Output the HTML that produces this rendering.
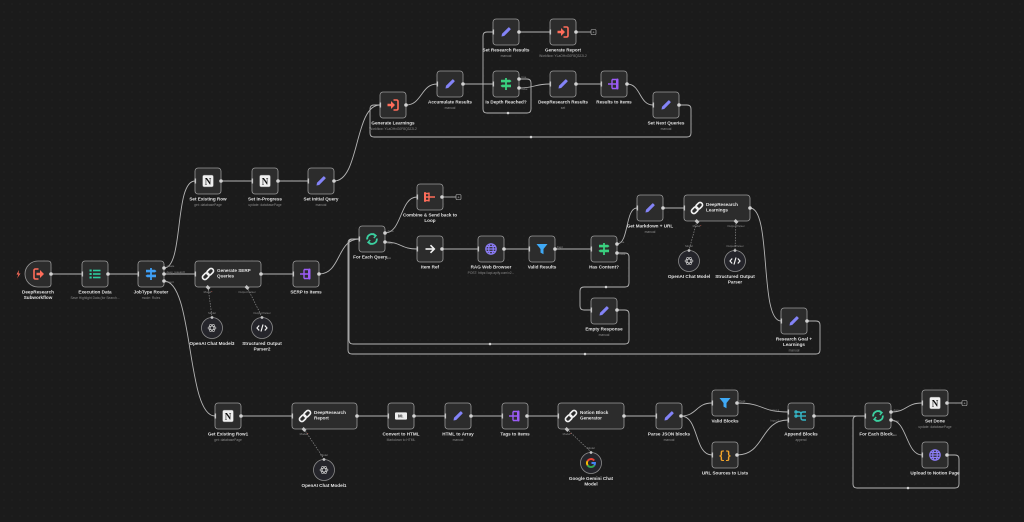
<!DOCTYPE html>
<html><head><meta charset="utf-8"><style>
html,body{margin:0;padding:0;background:#1b1b1b;}
svg{display:block;}
.n{fill:#2c2c2c;stroke:#9a9a9a;stroke-width:.8;}
.c{fill:#25252b;stroke:#8c8c8c;stroke-width:.8;}
.e{fill:none;stroke:#b4b4b4;stroke-width:.9;}
.d{fill:none;stroke:#8a8a8a;stroke-width:.7;stroke-dasharray:1.5 1.2;}
.l{font-family:"Liberation Sans",sans-serif;font-size:4.6px;font-weight:bold;fill:#e2e2e2;text-anchor:middle;}
.s{font-family:"Liberation Sans",sans-serif;font-size:3.3px;fill:#8a8a8a;text-anchor:middle;}
.w{font-family:"Liberation Sans",sans-serif;font-size:4.6px;font-weight:bold;fill:#e2e2e2;}
.h{font-family:"Liberation Sans",sans-serif;font-size:2.8px;fill:#8d8d8d;}
.hm{font-family:"Liberation Sans",sans-serif;font-size:2.8px;fill:#8d8d8d;text-anchor:middle;}
.o{fill:#d2d2d2;}
.i{fill:#c4c4c4;}
</style></head><body>
<svg width="1024" height="522" viewBox="0 0 1024 522" xmlns="http://www.w3.org/2000/svg">
<defs>
<pattern id="dots" width="8" height="8" patternUnits="userSpaceOnUse"><circle cx="4" cy="4" r="0.45" fill="#2a2a2a"/></pattern>
<g id="i-pencil"><path d="M-4.5,4.5 L-4,1.8 L2.2,-4.4 Q2.8,-5 3.4,-4.4 L4.4,-3.4 Q5,-2.8 4.4,-2.2 L-1.8,4 Z" fill="#8383f7"/></g>
<g id="i-exec"><path d="M0.5,-5 H3.5 Q5,-5 5,-3.5 V3.5 Q5,5 3.5,5 H0.5" fill="none" stroke="#ff6d5a" stroke-width="1.6"/><path d="M-5.5,-1.3 H-2 V-4 L2,0 L-2,4 V1.3 H-5.5 Z" fill="#ff6d5a"/></g>
<g id="i-trig"><path d="M-0.5,-5 H-3.5 Q-5,-5 -5,-3.5 V3.5 Q-5,5 -3.5,5 H-0.5" fill="none" stroke="#ff6d5a" stroke-width="1.6"/><path d="M-2.5,-1.3 H1 V-4 L5,0 L1,4 V1.3 H-2.5 Z" fill="#ff6d5a"/></g>
<g id="i-if"><rect x="-0.9" y="-6" width="1.8" height="12"/><path d="M-5,-4.2 H4 L5.5,-2.9 L4,-1.6 H-5Z"/><path d="M5,0.6 H-4 L-5.5,1.9 L-4,3.2 H5Z"/></g>
<g id="i-split"><path d="M-6,0 H-2 M-2,-4.5 V4.5 M-2,-4.5 H2 M-2,0 H2 M-2,4.5 H2" stroke="#9b5cf6" stroke-width="1.4" fill="none"/><rect x="2" y="-5.5" width="2.5" height="11" rx="1" fill="#9b5cf6"/></g>
<g id="i-agg"><path d="M-5,-3.5 H-1 M-5,0 H-1 M-5,3.5 H-1 M-1,-4.5 V4.5 M-1,0 H5" stroke="#ff6d5a" stroke-width="1.4" fill="none"/><rect x="-6" y="-5" width="2" height="10" rx="1" fill="#ff6d5a"/></g>
<g id="i-notion"><rect x="-5.5" y="-6" width="11" height="12" rx="1.6" fill="#efefef" stroke="#555" stroke-width=".5"/><text x="0" y="3.4" font-size="9" font-weight="bold" text-anchor="middle" fill="#111" font-family="Liberation Serif,serif">N</text></g>
<g id="i-list" fill="#2ecc9e"><rect x="-5.5" y="-4.5" width="2.2" height="2"/><rect x="-5.5" y="-1" width="2.2" height="2"/><rect x="-5.5" y="2.5" width="2.2" height="2"/><rect x="-2" y="-4.3" width="7.5" height="1.6"/><rect x="-2" y="-0.8" width="7.5" height="1.6"/><rect x="-2" y="2.7" width="7.5" height="1.6"/></g>
<g id="i-link"><g transform="rotate(-45)" fill="none" stroke="#f0f0f0" stroke-width="1.7"><rect x="-6.8" y="-2.4" width="7.4" height="4.8" rx="2.4"/><rect x="-0.6" y="-2.4" width="7.4" height="4.8" rx="2.4"/></g></g>
<g id="i-loop" fill="none" stroke="#3bd0a0" stroke-width="1.8"><path d="M-4.8,0.5 A4.8,4.8 0 0 1 3.2,-3.6"/><path d="M4.8,-0.5 A4.8,4.8 0 0 1 -3.2,3.6"/><path d="M1.2,-5.5 L4,-3.4 L1.8,-1" stroke-width="1.4"/><path d="M-1.2,5.5 L-4,3.4 L-1.8,1" stroke-width="1.4"/></g>
<g id="i-globe" fill="none" stroke="#8b7cf6" stroke-width="1.2"><circle r="5.2"/><ellipse rx="2.3" ry="5.2"/><path d="M-5.2,0 H5.2 M-4.6,-2.5 H4.6 M-4.6,2.5 H4.6"/></g>
<g id="i-filter"><path d="M-5.5,-5 H5.5 L1.5,0 V5.2 L-1.5,3.6 V0 Z" fill="#3fa9f5"/></g>
<g id="i-md"><rect x="-6" y="-3.6" width="12" height="7.2" rx="1" fill="#eeeeee"/><text x="0" y="1.6" font-size="4.6" font-weight="bold" text-anchor="middle" fill="#222" font-family="Liberation Sans,sans-serif">M↓</text></g>
<g id="i-json"><text x="0" y="3.6" font-size="11" font-weight="bold" text-anchor="middle" fill="#f0a32a" font-family="Liberation Mono,monospace">{}</text></g>
<g id="i-merge" fill="none" stroke="#35b5c5" stroke-width="1.4"><path d="M-5,-4 H-2 Q0,-4 0,-1.5 V1.5 Q0,4 2,4 H5"/><path d="M-5,0 H5"/><path d="M0,-1.5 Q0,-4 2,-4 H5"/><circle cx="-5" cy="-4" r="1"/><circle cx="-5" cy="0" r="1"/></g>
<g id="i-arrow" fill="none" stroke="#f0f0f0" stroke-width="1.6"><path d="M-4.5,0 H4"/><path d="M0.5,-3.8 L4.3,0 L0.5,3.8"/></g>
<g id="i-openai" fill="none" stroke="#c8c8c8" stroke-width=".7"><ellipse rx="4" ry="1.8"/><ellipse rx="4" ry="1.8" transform="rotate(60)"/><ellipse rx="4" ry="1.8" transform="rotate(120)"/></g>
<g id="i-code" fill="none" stroke="#f0f0f0" stroke-width="1.2"><path d="M-2.8,-2.5 L-5,0 L-2.8,2.5 M2.8,-2.5 L5,0 L2.8,2.5 M1,-3.5 L-1,3.5"/></g>
<g id="i-google" fill="none" stroke-width="1.9"><path d="M3.2,-2.4 A4,4 0 0 0 -3.5,-1.9" stroke="#ea4335"/><path d="M-3.5,-1.9 A4,4 0 0 0 -3.3,2.3" stroke="#fbbc05"/><path d="M-3.3,2.3 A4,4 0 0 0 3.3,2.3" stroke="#34a853"/><path d="M3.3,2.3 A4,4 0 0 0 4,0 H0.5" stroke="#4285f4"/></g>
</defs>
<rect width="1024" height="522" fill="#1b1b1b"/>
<rect width="1024" height="522" fill="url(#dots)"/>

<!-- ===== EDGES ===== -->
<g class="e">
<path d="M406,105 C422,105 421,84 437,84"/>
<path d="M463,84 H493"/>
<path d="M519,79 H527 Q531,79 531,83 V109 Q531,113 527,113 H487 Q483,113 483,109 V36 Q483,32 487,32 H493"/>
<path d="M519,88 C535,88 534,84 550,84"/>
<path d="M576,84 H601"/>
<path d="M627,84 C641,84 639,105 653,105"/>
<path d="M679,105 H687 Q691,105 691,109 V133 Q691,137 687,137 H374 Q370,137 370,133 V109 Q370,105 374,105 H380"/>
<path d="M519,32 H550"/>
<path d="M576,32 H591"/>
<path d="M51,274 H82"/>
<path d="M108,274 H138"/>
<path d="M164,268 C184,268 174,181 195,181"/>
<path d="M164,274 H195"/>
<path d="M164,281 C194,281 186,416 215,416"/>
<path d="M221,181 H252"/>
<path d="M278,181 H308"/>
<path d="M334,181 C360,181 354,105 380,105"/>
<path d="M261,274 H293"/>
<path d="M319,274 C341,274 337,239 359,239"/>
<path d="M385,233 C402,233 400,197 417,197"/>
<path d="M385,242 C401,242 401,249 417,249"/>
<path d="M442,197 H456"/>
<path d="M442,249 H478"/>
<path d="M504,249 H529"/>
<path d="M555,249 H591"/>
<path d="M617,244 C629,244 625,208 637,208"/>
<path d="M617,253 H625 Q629,253 629,257 V283 Q629,287 625,287 H584 Q580,287 580,291 V306 Q580,310 584,310 H591"/>
<path d="M617,310 H625 Q629,310 629,314 V340 Q629,344 625,344 H353 Q349,344 349,340 V243 Q349,239 353,239 H359"/>
<path d="M663,208 H684"/>
<path d="M750,208 C772,208 759,321 781,321"/>
<path d="M807,321 H816 Q820,321 820,325 V350 Q820,354 816,354 H352 Q348,354 348,350 V243 Q348,239 352,239 H359"/>
<path d="M241,416 H292"/>
<path d="M357,416 H388"/>
<path d="M414,416 H445"/>
<path d="M471,416 H502"/>
<path d="M527,416 H558"/>
<path d="M624,416 H656"/>
<path d="M681,416 C697,416 696,403 712,403"/>
<path d="M681,416 C699,416 694,455 712,455"/>
<path d="M737,403 C765,403 760,412 788,412"/>
<path d="M737,455 C765,455 760,420 788,420"/>
<path d="M814,416 H865"/>
<path d="M891,412 C907,412 906,403 922,403"/>
<path d="M891,420 C907,420 906,455 922,455"/>
<path d="M947,403 H962"/>
<path d="M947,455 H955 Q959,455 959,459 V484 Q959,488 955,488 H857 Q853,488 853,484 V420 Q853,416 857,416 H865"/>
</g>
<!-- dashed sub connections -->
<g class="d">
<path d="M208,287 L212,317"/><path d="M247,287 L262,317"/>
<path d="M697,221 L689,250"/><path d="M736,221 L735,250"/>
<path d="M304,429 L324,459"/>
<path d="M567,429 L591,452"/>
</g>
<!-- loop midpoint dots -->
<g class="o"><circle cx="508" cy="113" r="1.3"/><circle cx="531" cy="137" r="1.3"/><circle cx="606" cy="287" r="1.3"/><circle cx="490" cy="344" r="1.3"/><circle cx="585" cy="354" r="1.3"/><circle cx="908" cy="488" r="1.3"/></g>
<!-- end squares -->
<g fill="#1b1b1b" stroke="#bbbbbb" stroke-width=".6">
<rect x="591" y="29.5" width="5" height="5" rx="1"/><rect x="456" y="194.5" width="5" height="5" rx="1"/><rect x="962" y="400.5" width="5" height="5" rx="1"/>
</g>
<g font-family="Liberation Sans,sans-serif" font-size="4" fill="#bbb" text-anchor="middle"><text x="593.5" y="33.5">+</text><text x="458.5" y="198.5">+</text><text x="964.5" y="404.5">+</text></g>

<!-- ===== NODES ===== -->
<g>
<!-- top -->
<rect class="n" x="493" y="19" width="26" height="26" rx="3"/><use href="#i-pencil" x="506" y="32"/>
<rect class="n" x="550" y="19" width="26" height="26" rx="3"/><use href="#i-exec" x="563" y="32"/>
<rect class="n" x="437" y="71" width="26" height="26" rx="3"/><use href="#i-pencil" x="450" y="84"/>
<rect class="n" x="493" y="71" width="26" height="26" rx="3"/><use href="#i-if" x="506" y="84" fill="#3ad07f"/>
<rect class="n" x="550" y="71" width="26" height="26" rx="3"/><use href="#i-pencil" x="563" y="84"/>
<rect class="n" x="601" y="71" width="26" height="26" rx="3"/><use href="#i-split" x="614" y="84"/>
<rect class="n" x="380" y="92" width="26" height="26" rx="3"/><use href="#i-exec" x="393" y="105"/>
<rect class="n" x="653" y="92" width="26" height="26" rx="3"/><use href="#i-pencil" x="666" y="105"/>
<!-- second row -->
<rect class="n" x="195" y="168" width="26" height="26" rx="3"/><use href="#i-notion" x="208" y="181"/>
<rect class="n" x="252" y="168" width="26" height="26" rx="3"/><use href="#i-notion" x="265" y="181"/>
<rect class="n" x="308" y="168" width="26" height="26" rx="3"/><use href="#i-pencil" x="321" y="181"/>
<!-- main row -->
<path class="n" d="M38,261 H48 Q51,261 51,264 V284 Q51,287 48,287 H38 A13,13 0 0 1 38,261 Z"/><use href="#i-trig" x="39" y="274"/>
<path d="M19,270 L16.5,274.5 H18.5 L17,278.5 L20.5,273.5 H18.5 Z" fill="#ff6d5a"/>
<rect class="n" x="82" y="261" width="26" height="26" rx="3"/><use href="#i-list" x="95" y="274"/>
<rect class="n" x="138" y="261" width="26" height="26" rx="3"/><use href="#i-if" x="151" y="274" fill="#3f9ff5"/>
<rect class="n" x="195" y="261" width="66" height="26" rx="3"/><use href="#i-link" x="208" y="274"/>
<text class="w" x="217" y="272">Generate SERP</text><text class="w" x="217" y="277.6">Queries</text>
<rect class="n" x="293" y="261" width="26" height="26" rx="3"/><use href="#i-split" x="306" y="274"/>
<rect class="n" x="359" y="226" width="26" height="26" rx="3"/><use href="#i-loop" x="372" y="239"/>
<rect class="n" x="417" y="184" width="26" height="26" rx="3"/><use href="#i-agg" x="430" y="197"/>
<rect class="n" x="417" y="236" width="26" height="26" rx="3"/><use href="#i-arrow" x="430" y="249"/>
<rect class="n" x="478" y="236" width="26" height="26" rx="3"/><use href="#i-globe" x="491" y="249"/>
<rect class="n" x="529" y="236" width="26" height="26" rx="3"/><use href="#i-filter" x="542" y="249"/>
<rect class="n" x="591" y="236" width="26" height="26" rx="3"/><use href="#i-if" x="604" y="249" fill="#3ad07f"/>
<rect class="n" x="591" y="298" width="26" height="26" rx="3"/><use href="#i-pencil" x="604" y="311"/>
<rect class="n" x="637" y="195" width="26" height="26" rx="3"/><use href="#i-pencil" x="650" y="208"/>
<rect class="n" x="684" y="195" width="66" height="26" rx="3"/><use href="#i-link" x="697" y="208"/>
<text class="w" x="706" y="206">DeepResearch</text><text class="w" x="706" y="211.6">Learnings</text>
<rect class="n" x="781" y="308" width="26" height="26" rx="3"/><use href="#i-pencil" x="794" y="321"/>
<!-- bottom -->
<rect class="n" x="215" y="403" width="26" height="26" rx="3"/><use href="#i-notion" x="228" y="416"/>
<rect class="n" x="292" y="403" width="65" height="26" rx="3"/><use href="#i-link" x="305" y="416"/>
<text class="w" x="314" y="414">DeepResearch</text><text class="w" x="314" y="419.6">Report</text>
<rect class="n" x="388" y="403" width="26" height="26" rx="3"/><use href="#i-md" x="401" y="416"/>
<rect class="n" x="445" y="403" width="26" height="26" rx="3"/><use href="#i-pencil" x="458" y="416"/>
<rect class="n" x="502" y="403" width="26" height="26" rx="3"/><use href="#i-split" x="515" y="416"/>
<rect class="n" x="558" y="403" width="66" height="26" rx="3"/><use href="#i-link" x="571" y="416"/>
<text class="w" x="580" y="414">Notion Block</text><text class="w" x="580" y="419.6">Generator</text>
<rect class="n" x="656" y="403" width="26" height="26" rx="3"/><use href="#i-pencil" x="669" y="416"/>
<rect class="n" x="712" y="390" width="26" height="26" rx="3"/><use href="#i-filter" x="725" y="403"/>
<rect class="n" x="712" y="442" width="26" height="26" rx="3"/><use href="#i-json" x="725" y="455"/>
<rect class="n" x="788" y="403" width="26" height="26" rx="3"/><use href="#i-merge" x="801" y="416"/>
<rect class="n" x="865" y="403" width="26" height="26" rx="3"/><use href="#i-loop" x="878" y="416"/>
<rect class="n" x="922" y="390" width="26" height="26" rx="3"/><use href="#i-notion" x="935" y="403"/>
<rect class="n" x="922" y="442" width="26" height="26" rx="3"/><use href="#i-globe" x="935" y="455"/>
<!-- circles -->
<circle class="c" cx="212" cy="328" r="10.5"/><use href="#i-openai" x="212" y="328"/>
<circle class="c" cx="262" cy="328" r="10.5"/><use href="#i-code" x="262" y="328"/>
<circle class="c" cx="689" cy="261" r="10.5"/><use href="#i-openai" x="689" y="261"/>
<circle class="c" cx="735" cy="261" r="10.5"/><use href="#i-code" x="735" y="261"/>
<circle class="c" cx="324" cy="470" r="10.5"/><use href="#i-openai" x="324" y="470"/>
<circle class="c" cx="591" cy="463" r="10.5"/><use href="#i-google" x="591" y="463"/>
</g>

<!-- handles: outputs (circles) -->
<g class="o">
<circle cx="406" cy="105" r="1.8"/><circle cx="463" cy="84" r="1.8"/><circle cx="519" cy="79" r="1.8"/><circle cx="519" cy="88" r="1.8"/>
<circle cx="576" cy="84" r="1.8"/><circle cx="627" cy="84" r="1.8"/><circle cx="679" cy="105" r="1.8"/><circle cx="519" cy="32" r="1.8"/><circle cx="576" cy="32" r="1.8"/>
<circle cx="51" cy="274" r="1.8"/><circle cx="108" cy="274" r="1.8"/><circle cx="164" cy="268" r="1.8"/><circle cx="164" cy="274" r="1.8"/><circle cx="164" cy="281" r="1.8"/>
<circle cx="221" cy="181" r="1.8"/><circle cx="278" cy="181" r="1.8"/><circle cx="334" cy="181" r="1.8"/><circle cx="261" cy="274" r="1.8"/><circle cx="319" cy="274" r="1.8"/>
<circle cx="385" cy="233" r="1.8"/><circle cx="385" cy="242" r="1.8"/><circle cx="442" cy="197" r="1.8"/><circle cx="442" cy="249" r="1.8"/><circle cx="504" cy="249" r="1.8"/>
<circle cx="555" cy="249" r="1.8"/><circle cx="617" cy="244" r="1.8"/><circle cx="617" cy="253" r="1.8"/><circle cx="617" cy="310" r="1.8"/><circle cx="663" cy="208" r="1.8"/>
<circle cx="750" cy="208" r="1.8"/><circle cx="807" cy="321" r="1.8"/>
<circle cx="241" cy="416" r="1.8"/><circle cx="357" cy="416" r="1.8"/><circle cx="414" cy="416" r="1.8"/><circle cx="471" cy="416" r="1.8"/><circle cx="527" cy="416" r="1.8"/>
<circle cx="624" cy="416" r="1.8"/><circle cx="681" cy="416" r="1.8"/><circle cx="737" cy="403" r="1.8"/><circle cx="737" cy="455" r="1.8"/><circle cx="814" cy="416" r="1.8"/>
<circle cx="891" cy="412" r="1.8"/><circle cx="891" cy="420" r="1.8"/><circle cx="947" cy="403" r="1.8"/><circle cx="947" cy="455" r="1.8"/>
</g>
<!-- handles: inputs (bars) -->
<g class="i">
<rect x="379.5" y="102.5" width="1.6" height="5"/><rect x="436.5" y="81.5" width="1.6" height="5"/><rect x="492.5" y="81.5" width="1.6" height="5"/><rect x="549.5" y="81.5" width="1.6" height="5"/>
<rect x="600.5" y="81.5" width="1.6" height="5"/><rect x="652.5" y="102.5" width="1.6" height="5"/><rect x="492.5" y="29.5" width="1.6" height="5"/><rect x="549.5" y="29.5" width="1.6" height="5"/>
<rect x="81.5" y="271.5" width="1.6" height="5"/><rect x="137.5" y="271.5" width="1.6" height="5"/><rect x="194.5" y="178.5" width="1.6" height="5"/><rect x="251.5" y="178.5" width="1.6" height="5"/>
<rect x="307.5" y="178.5" width="1.6" height="5"/><rect x="194.5" y="271.5" width="1.6" height="5"/><rect x="292.5" y="271.5" width="1.6" height="5"/><rect x="358.5" y="236.5" width="1.6" height="5"/>
<rect x="416.5" y="194.5" width="1.6" height="5"/><rect x="416.5" y="246.5" width="1.6" height="5"/><rect x="477.5" y="246.5" width="1.6" height="5"/><rect x="528.5" y="246.5" width="1.6" height="5"/>
<rect x="590.5" y="246.5" width="1.6" height="5"/><rect x="590.5" y="307.5" width="1.6" height="5"/><rect x="636.5" y="205.5" width="1.6" height="5"/><rect x="683.5" y="205.5" width="1.6" height="5"/>
<rect x="780.5" y="318.5" width="1.6" height="5"/>
<rect x="214.5" y="413.5" width="1.6" height="5"/><rect x="291.5" y="413.5" width="1.6" height="5"/><rect x="387.5" y="413.5" width="1.6" height="5"/><rect x="444.5" y="413.5" width="1.6" height="5"/>
<rect x="501.5" y="413.5" width="1.6" height="5"/><rect x="557.5" y="413.5" width="1.6" height="5"/><rect x="655.5" y="413.5" width="1.6" height="5"/><rect x="711.5" y="400.5" width="1.6" height="5"/>
<rect x="711.5" y="452.5" width="1.6" height="5"/><rect x="787.5" y="409.5" width="1.6" height="5"/><rect x="787.5" y="417.5" width="1.6" height="5"/><rect x="864.5" y="413.5" width="1.6" height="5"/>
<rect x="921.5" y="400.5" width="1.6" height="5"/><rect x="921.5" y="452.5" width="1.6" height="5"/>
<!-- sub-node ports -->
<rect x="206" y="286" width="4" height="3" transform="rotate(45 208 287.5)"/><rect x="245" y="286" width="4" height="3" transform="rotate(45 247 287.5)"/>
<circle cx="212" cy="317.5" r="1.4"/><circle cx="262" cy="317.5" r="1.4"/>
<rect x="695" y="220" width="4" height="3" transform="rotate(45 697 221.5)"/><rect x="734" y="220" width="4" height="3" transform="rotate(45 736 221.5)"/>
<circle cx="689" cy="250.5" r="1.4"/><circle cx="735" cy="250.5" r="1.4"/>
<rect x="302" y="428" width="4" height="3" transform="rotate(45 304 429.5)"/><circle cx="324" cy="459.5" r="1.4"/>
<rect x="565" y="428" width="4" height="3" transform="rotate(45 567 429.5)"/><circle cx="591" cy="452.5" r="1.4"/>
</g>

<!-- handle labels -->
<g class="h">
<text x="521.5" y="78">true</text><text x="521.5" y="90">false</text>
<text x="387.5" y="232">done</text><text x="387.5" y="244">loop</text>
<text x="619.5" y="243">true</text><text x="619.5" y="255">false</text>
<text x="166.5" y="267">create</text><text x="166.5" y="273">deep_research</text><text x="166.5" y="283">report</text>
<text x="557" y="248">Kept</text><text x="739.5" y="402">Kept</text>
<text x="893.5" y="411">done</text><text x="893.5" y="422">loop</text>
</g>
<g class="hm">
<text x="779" y="411" text-anchor="end">Input 1</text><text x="779" y="421.5" text-anchor="end">Input 2</text>
<text x="208" y="293">Model<tspan fill="#ff6d5a">*</tspan></text><text x="247" y="293">Output Parser</text>
<text x="212" y="314">Model</text><text x="262" y="314">Output Parser</text>
<text x="697" y="227">Model<tspan fill="#ff6d5a">*</tspan></text><text x="736" y="227">Output Parser</text>
<text x="689" y="247">Model</text><text x="735" y="247">Output Parser</text>
<text x="304" y="435">Model<tspan fill="#ff6d5a">*</tspan></text><text x="324" y="456">Model</text>
<text x="567" y="435">Model<tspan fill="#ff6d5a">*</tspan></text><text x="591" y="449">Model</text>
</g>

<!-- node labels -->
<g>
<text class="l" x="506" y="51.5">Set Research Results</text><text class="s" x="506" y="57">manual</text>
<text class="l" x="563" y="51.5">Generate Report</text><text class="s" x="563" y="57">Workflow: YLaOHxG0F8Q3ZJL2</text>
<text class="l" x="450" y="103.5">Accumulate Results</text><text class="s" x="450" y="109">manual</text>
<text class="l" x="506" y="103.5">Is Depth Reached?</text>
<text class="l" x="563" y="103.5">DeepResearch Results</text><text class="s" x="563" y="109">set</text>
<text class="l" x="614" y="103.5">Results to Items</text>
<text class="l" x="393" y="124.5">Generate Learnings</text><text class="s" x="393" y="130">Workflow: YLaOHxG0F8Q3ZJL2</text>
<text class="l" x="666" y="124.5">Set Next Queries</text><text class="s" x="666" y="130">manual</text>
<text class="l" x="208" y="200.5">Set Existing Row</text><text class="s" x="208" y="206">get: databasePage</text>
<text class="l" x="265" y="200.5">Set In-Progress</text><text class="s" x="265" y="206">update: databasePage</text>
<text class="l" x="321" y="200.5">Set Initial Query</text><text class="s" x="321" y="206">manual</text>
<text class="l" x="38" y="293.5">DeepResearch</text><text class="l" x="38" y="299">Subworkflow</text>
<text class="l" x="95" y="293.5">Execution Data</text><text class="s" x="95" y="299">Save Highlight Data (for Search...</text>
<text class="l" x="151" y="293.5">JobType Router</text><text class="s" x="151" y="299">mode: Rules</text>
<text class="l" x="306" y="293.5">SERP to Items</text>
<text class="l" x="212" y="345">OpenAI Chat Model3</text>
<text class="l" x="262" y="345">Structured Output</text><text class="l" x="262" y="350.5">Parser2</text>
<text class="l" x="372" y="258.5">For Each Query...</text>
<text class="l" x="430" y="216.5">Combine &amp; Send back to</text><text class="l" x="430" y="222">Loop</text>
<text class="l" x="430" y="268.5">Item Ref</text>
<text class="l" x="491" y="268.5">RAG Web Browser</text><text class="s" x="491" y="274">POST: https://api.apify.com/v2...</text>
<text class="l" x="542" y="268.5">Valid Results</text>
<text class="l" x="604" y="268.5">Has Content?</text>
<text class="l" x="604" y="330.5">Empty Response</text><text class="s" x="604" y="336">manual</text>
<text class="l" x="650" y="227.5">Get Markdown + URL</text><text class="s" x="650" y="233">manual</text>
<text class="l" x="689" y="278">OpenAI Chat Model</text>
<text class="l" x="735" y="278">Structured Output</text><text class="l" x="735" y="283.5">Parser</text>
<text class="l" x="794" y="340.5">Research Goal +</text><text class="l" x="794" y="346">Learnings</text><text class="s" x="794" y="351.5">manual</text>
<text class="l" x="228" y="435.5">Get Existing Row1</text><text class="s" x="228" y="441">get: databasePage</text>
<text class="l" x="324" y="487">OpenAI Chat Model1</text>
<text class="l" x="401" y="435.5">Convert to HTML</text><text class="s" x="401" y="441">Markdown to HTML</text>
<text class="l" x="458" y="435.5">HTML to Array</text><text class="s" x="458" y="441">manual</text>
<text class="l" x="515" y="435.5">Tags to Items</text>
<text class="l" x="591" y="480">Google Gemini Chat</text><text class="l" x="591" y="485.5">Model</text>
<text class="l" x="669" y="435.5">Parse JSON blocks</text><text class="s" x="669" y="441">manual</text>
<text class="l" x="725" y="422.5">Valid Blocks</text>
<text class="l" x="725" y="474.5">URL Sources to Lists</text>
<text class="l" x="801" y="435.5">Append Blocks</text><text class="s" x="801" y="441">append</text>
<text class="l" x="878" y="435.5">For Each Block...</text>
<text class="l" x="935" y="422.5">Set Done</text><text class="s" x="935" y="428">update: databasePage</text>
<text class="l" x="935" y="474.5">Upload to Notion Page</text>
</g>
</svg>
</body></html>
